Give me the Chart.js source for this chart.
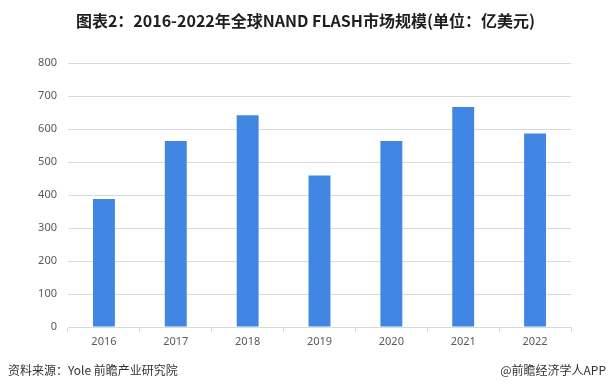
<!DOCTYPE html>
<html>
<head>
<meta charset="utf-8">
<script src="https://cdn.jsdelivr.net/npm/chart.js@4.4.1/dist/chart.umd.min.js"></script>
<style>
  html, body { margin: 0; padding: 0; background: #fff; }
  #wrap { position: relative; width: 611px; height: 392px; overflow: hidden; }
  #title { position: absolute; left: 0; top: 8px; width: 611px; text-align: center;
           font: bold 16px "Noto Sans CJK SC", "Noto Sans", sans-serif; color: #1f1f1f; }
  #src { position: absolute; left: 8px; top: 361px; font: 12px "Noto Sans CJK SC", sans-serif; color: #333; }
  #app { position: absolute; right: 5px; top: 361px; font: 12px "Noto Sans CJK SC", sans-serif; color: #333; }
  canvas { position: absolute; left: 0; top: 0; }
</style>
</head>
<body>
<div id="wrap">
  <canvas id="c" width="611" height="392"></canvas>
  <div id="title">图表2：2016-2022年全球NAND FLASH市场规模(单位：亿美元)</div>
  <div id="src">资料来源：Yole 前瞻产业研究院</div>
  <div id="app">@前瞻经济学人APP</div>
</div>
<script>
const categories = ['2016', '2017', '2018', '2019', '2020', '2021', '2022'];
const marketSize = [388, 564, 642, 459, 564, 667, 586];
const yTicks = [0, 100, 200, 300, 400, 500, 600, 700, 800];

const tickFont = { family: '"Noto Sans", "Liberation Sans", sans-serif', size: 11 };

new Chart(document.getElementById('c'), {
  type: 'bar',
  data: {
    labels: categories,
    datasets: [{
      label: '市场规模',
      data: marketSize,
      backgroundColor: '#4086e2',
      barPercentage: 0.305,
      categoryPercentage: 1.0
    }]
  },
  options: {
    responsive: false,
    animation: false,
    devicePixelRatio: 1,
    layout: { padding: { left: 0, right: 40, top: 63, bottom: 40 } },
    plugins: { legend: { display: false }, title: { display: false }, tooltip: { enabled: false } },
    scales: {
      x: {
        grid: { display: true, drawOnChartArea: false, drawTicks: true, tickLength: 5, color: '#d9d9d9', offset: true },
        border: { display: true, color: '#d9d9d9' },
        ticks: { color: '#595959', font: tickFont, padding: 3 },
        afterFit: s => { s.height = 25; }
      },
      y: {
        min: 0, max: 800,
        afterBuildTicks: s => { s.ticks = yTicks.map(v => ({ value: v })); },
        grid: { color: '#d9d9d9', drawTicks: false },
        border: { display: false },
        ticks: { color: '#595959', font: tickFont, padding: 11 },
        afterFit: s => { s.width = 68; }
      }
    }
  }
});
</script>
</body>
</html>
